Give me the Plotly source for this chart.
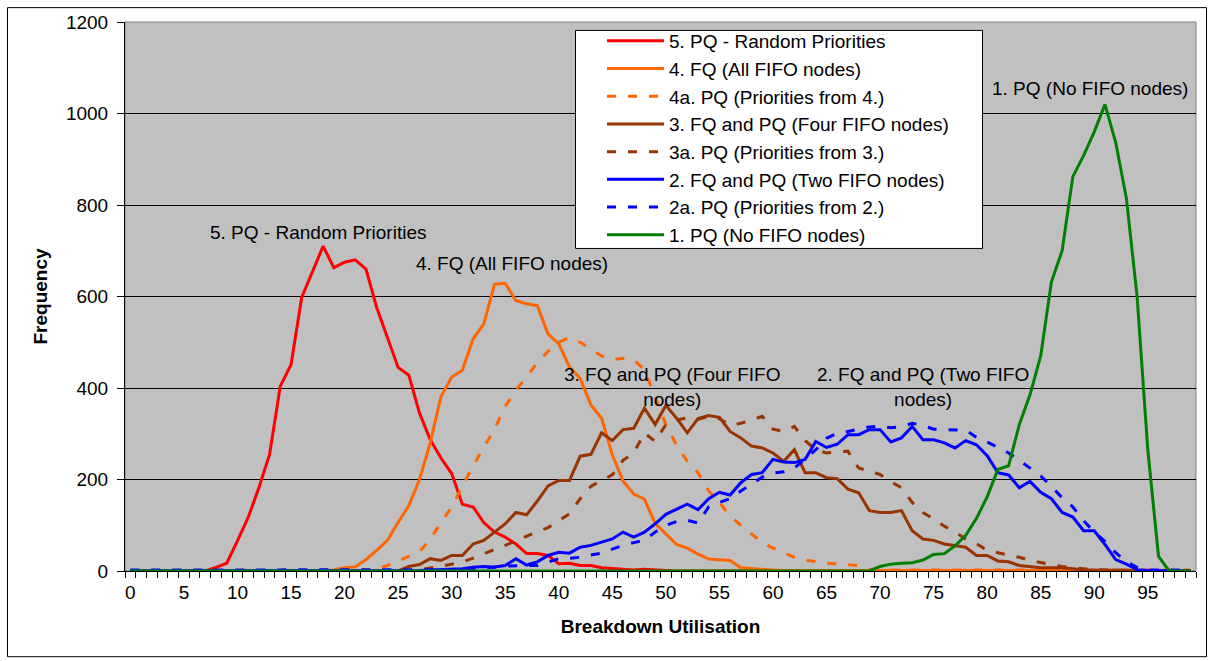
import plotly.graph_objects as go

categories = list(range(100))

def fill(d, n=100, default=0):
    return [d.get(i, default) for i in range(n)]

red_5 = fill({8: 8, 9: 17, 10: 66, 11: 117, 12: 182, 13: 255, 14: 404, 15: 451, 16: 598, 17: 656,
              18: 710, 19: 663, 20: 675, 21: 680, 22: 660, 23: 576, 24: 511, 25: 445, 26: 428,
              27: 345, 28: 287, 29: 247, 30: 213, 31: 146, 32: 140, 33: 106, 34: 85, 35: 74,
              36: 59, 37: 38, 38: 38, 39: 34, 40: 16, 41: 17, 42: 12, 43: 12, 44: 7, 45: 5,
              46: 3, 47: 2, 48: 4, 49: 2, 50: 1})

orange_4 = fill({19: 2, 20: 7, 21: 9, 22: 25, 23: 45, 24: 67, 25: 106, 26: 143, 27: 200, 28: 280,
                 29: 381, 30: 424, 31: 439, 32: 507, 33: 540, 34: 627, 35: 629, 36: 591, 37: 584,
                 38: 580, 39: 518, 40: 497, 41: 446, 42: 421, 43: 363, 44: 334, 45: 254, 46: 197,
                 47: 168, 48: 157, 49: 104, 50: 80, 51: 58, 52: 50, 53: 37, 54: 26, 55: 24, 56: 23,
                 57: 7, 58: 5, 59: 3, 60: 2}, default=0)
for i in range(61, 100):
    orange_4[i] = 1

orange_4a = fill({22: 2, 23: 4, 24: 12, 25: 22, 26: 32, 27: 42, 28: 70, 29: 105, 30: 140, 31: 185,
                  32: 230, 33: 270, 34: 310, 35: 360, 36: 395, 37: 425, 38: 455, 39: 480, 40: 500,
                  41: 510, 42: 500, 43: 485, 44: 470, 45: 462, 46: 465, 47: 462, 48: 440, 49: 380,
                  50: 320, 51: 275, 52: 240, 53: 215, 54: 175, 55: 150, 56: 120, 57: 100, 58: 82,
                  59: 62, 60: 50, 61: 40, 62: 30, 63: 24, 64: 20, 65: 17, 66: 16, 67: 14, 68: 12,
                  69: 4}, default=0)
for i in range(70, 100):
    orange_4a[i] = 2

brown_3 = fill({26: 10, 27: 14, 28: 27, 29: 23, 30: 34, 31: 34, 32: 59, 33: 67, 34: 85, 35: 103,
                36: 128, 37: 123, 38: 153, 39: 186, 40: 198, 41: 198, 42: 251, 43: 255, 44: 302,
                45: 285, 46: 309, 47: 312, 48: 356, 49: 320, 50: 362, 51: 334, 52: 302, 53: 333,
                54: 340, 55: 336, 56: 305, 57: 291, 58: 273, 59: 269, 60: 258, 61: 240, 62: 265,
                63: 215, 64: 215, 65: 204, 66: 202, 67: 179, 68: 171, 69: 132, 70: 128, 71: 128,
                72: 132, 73: 88, 74: 70, 75: 67, 76: 59, 77: 56, 78: 52, 79: 34, 80: 34, 81: 22,
                82: 20, 83: 12, 84: 9, 85: 7, 86: 7, 87: 7, 88: 5, 89: 2, 90: 2, 91: 1, 92: 2, 93: 1})

brown_3a = fill({26: 1, 27: 3, 28: 6, 29: 10, 30: 15, 31: 20, 32: 28, 33: 38, 34: 47, 35: 56,
                 36: 66, 37: 77, 38: 86, 39: 95, 40: 110, 41: 125, 42: 158, 43: 185, 44: 198,
                 45: 210, 46: 242, 47: 258, 48: 302, 49: 283, 50: 320, 51: 330, 52: 335, 53: 332,
                 54: 337, 55: 333, 56: 318, 57: 323, 58: 330, 59: 338, 60: 310, 61: 305, 62: 316,
                 63: 285, 64: 265, 65: 258, 66: 260, 67: 262, 68: 225, 69: 218, 70: 211, 71: 195,
                 72: 182, 73: 150, 74: 128, 75: 114, 76: 98, 77: 85, 78: 70, 79: 60, 80: 45,
                 81: 40, 82: 35, 83: 30, 84: 23, 85: 18, 86: 14, 87: 10, 88: 7, 89: 5, 90: 3,
                 91: 2, 92: 1})

blue_2 = fill({27: 1, 28: 2, 29: 3, 30: 4, 31: 5, 32: 8, 33: 10, 34: 9, 35: 12, 36: 27, 37: 13,
               38: 20, 39: 34, 40: 41, 41: 39, 42: 52, 43: 56, 44: 63, 45: 70, 46: 85, 47: 74,
               48: 85, 49: 103, 50: 124, 51: 135, 52: 146, 53: 134, 54: 158, 55: 172, 56: 166,
               57: 193, 58: 211, 59: 215, 60: 244, 61: 238, 62: 237, 63: 244, 64: 283, 65: 270,
               66: 277, 67: 298, 68: 298, 69: 309, 70: 309, 71: 282, 72: 291, 73: 316, 74: 287,
               75: 287, 76: 280, 77: 269, 78: 285, 79: 276, 80: 252, 81: 215, 82: 210, 83: 182,
               84: 196, 85: 172, 86: 158, 87: 128, 88: 118, 89: 88, 90: 88, 91: 58, 92: 25,
               93: 15, 94: 3, 95: 1, 96: 1})

blue_2a = fill({30: 3, 31: 4, 32: 5, 33: 6, 34: 8, 35: 11, 36: 12, 37: 12, 38: 12, 39: 20, 40: 27,
                41: 28, 42: 30, 43: 35, 44: 39, 45: 48, 46: 56, 47: 62, 48: 67, 49: 85, 50: 100,
                51: 108, 52: 111, 53: 105, 54: 140, 55: 150, 56: 158, 57: 175, 58: 190, 59: 205,
                60: 214, 61: 217, 62: 225, 63: 245, 64: 265, 65: 290, 66: 301, 67: 305, 68: 310,
                69: 315, 70: 317, 71: 313, 72: 315, 73: 323, 74: 318, 75: 310, 76: 309, 77: 308,
                78: 308, 79: 292, 80: 282, 81: 270, 82: 258, 83: 242, 84: 225, 85: 208, 86: 185,
                87: 160, 88: 140, 89: 110, 90: 85, 91: 65, 92: 40, 93: 20, 94: 8}, default=2)

green_1 = fill({70: 10, 71: 15, 72: 17, 73: 18, 74: 24, 75: 36, 76: 38, 77: 55, 78: 78, 79: 115,
                80: 162, 81: 222, 82: 230, 83: 320, 84: 385, 85: 470, 86: 632, 87: 700, 88: 862,
                89: 908, 90: 960, 91: 1020, 92: 937, 93: 815, 94: 600, 95: 265, 96: 32})

series_names = ["5. PQ - Random Priorities", "4. FQ (All FIFO nodes)", "4a. PQ (Priorities from 4.)",
                "3. FQ and PQ (Four FIFO nodes)", "3a. PQ (Priorities from 3.)",
                "2. FQ and PQ (Two FIFO nodes)", "2a. PQ (Priorities from 2.)", "1. PQ (No FIFO nodes)"]
series_values = [red_5, orange_4, orange_4a, brown_3, brown_3a, blue_2, blue_2a, green_1]
series_colors = ["#FF0000", "#FF6600", "#FF6600", "#993300", "#993300", "#0000FF", "#0000FF", "#008000"]
series_dash = ["solid", "solid", "9px,12px", "solid", "9px,12px", "solid", "9px,12px", "solid"]

x_ticks = list(range(0, 100, 5))
y_ticks = list(range(0, 1201, 200))

curve_labels = [
    ("5. PQ - Random Priorities", 17.5, 739),
    ("4. FQ (All FIFO nodes)", 35.6, 672),
    ("3. FQ and PQ (Four FIFO<br>nodes)", 50.55, 403),
    ("2. FQ and PQ (Two FIFO<br>nodes)", 74.0, 403),
    ("1. PQ (No FIFO nodes)", 89.6, 1054),
]

FONT = "Liberation Sans, Arial, sans-serif"

fig = go.Figure()
for name, vals, col, dash in zip(series_names, series_values, series_colors, series_dash):
    fig.add_trace(go.Scatter(x=categories, y=vals, name=name, mode="lines",
                             line=dict(color=col, width=3, dash=dash)))

for text, xv, yv in curve_labels:
    fig.add_annotation(x=xv, y=yv, xref="x", yref="y", text=text, showarrow=False,
                       font=dict(family=FONT, size=19, color="#000000"),
                       xanchor="center", yanchor="middle")

L, R, T, B = 125, 13, 17, 90
W, H = 1209, 661
pw, ph = W - L - R, H - T - B

def px2paper_x(px):
    return (px - L) / pw

def px2paper_y(py):
    return (H - B - py) / ph

# plot area border (gray)
fig.add_shape(type="rect", xref="paper", yref="paper", x0=0, x1=1, y0=0, y1=1,
              line=dict(color="#808080", width=1), layer="below")
# chart area border
fig.add_shape(type="rect", xref="paper", yref="paper",
              x0=px2paper_x(7.5), x1=px2paper_x(1206.5), y0=px2paper_y(657.5), y1=px2paper_y(2.5),
              line=dict(color="#000000", width=1))
# legend box
fig.add_shape(type="rect", xref="paper", yref="paper",
              x0=px2paper_x(575.5), x1=px2paper_x(982.5), y0=px2paper_y(245.5), y1=px2paper_y(25.5),
              line=dict(color="#000000", width=1), fillcolor="#FFFFFF", layer="above")

fig.update_layout(
    width=W, height=H,
    margin=dict(l=L, r=R, t=T, b=B),
    paper_bgcolor="#FFFFFF",
    plot_bgcolor="#C0C0C0",
    font=dict(family=FONT, size=19, color="#000000"),
    showlegend=True,
    legend=dict(x=px2paper_x(602), y=px2paper_y(17), xanchor="left", yanchor="top",
                bgcolor="rgba(0,0,0,0)", borderwidth=0,
                font=dict(family=FONT, size=19, color="#000000"),
                itemwidth=57, traceorder="normal"),
    xaxis=dict(range=[-0.5, 99.5], tickmode="array", tickvals=x_ticks,
               ticktext=[str(v) for v in x_ticks], ticks="", showgrid=False, zeroline=False,
               showline=True, linecolor="#000000", linewidth=1,
               minor=dict(tick0=-0.5, dtick=1, ticks="outside", ticklen=6, tickcolor="#000000",
                          showgrid=False),
               tickfont=dict(family=FONT, size=19), ticklabelstandoff=4,
               title=dict(text="<b>Breakdown Utilisation</b>", font=dict(family=FONT, size=19),
                          standoff=17)),
    yaxis=dict(range=[0, 1200], tickmode="array", tickvals=y_ticks, ticks="outside", ticklen=7,
               tickcolor="#000000", showgrid=True, gridcolor="#000000", gridwidth=1,
               zeroline=False, showline=True, linecolor="#000000", linewidth=1,
               tickfont=dict(family=FONT, size=19), ticklabelstandoff=5,
               title=dict(text="<b>Frequency</b>", font=dict(family=FONT, size=19), standoff=13)),
)

fig.write_html("out.html")
